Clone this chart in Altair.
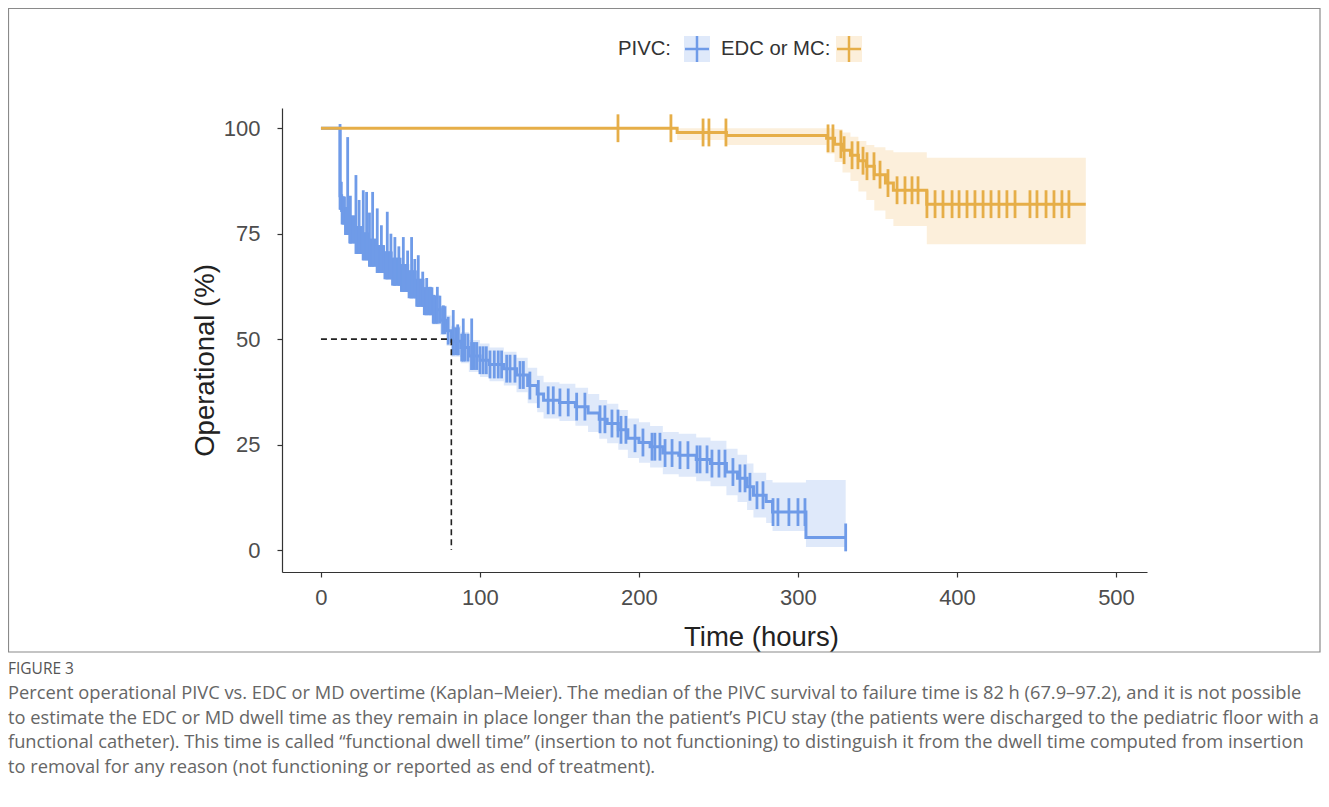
import altair as alt
import pandas as pd
import numpy as np

# ---------------- data ----------------
# PIVC Kaplan-Meier step curve (time in hours, survival %), with CI band
pivc_t = [0, 12, 13, 15, 18, 22, 26, 30, 35, 40, 45, 50, 55, 60, 65, 70, 75, 79, 82, 88,
          93, 100, 106, 115, 123, 130, 136, 140, 150, 160, 168, 175, 180, 187, 193, 200,
          207, 215, 225, 236, 245, 255, 262, 268, 272, 280, 284, 305, 330]
pivc_s = [100, 84, 80.5, 78, 76, 73.5, 72, 70.5, 69, 67.5, 66, 64.5, 63, 61, 59, 57, 54.5, 52, 49.5, 48,
          46, 45, 44, 43, 41.5, 39, 37, 35.5, 35, 34, 32.5, 31, 30, 28.5, 26.5, 25.5,
          24.5, 23, 22.5, 21.5, 20.5, 18.5, 17, 15, 13, 11.5, 9, 3, 3]
pivc_lo = [100, 81, 77.5, 75, 73, 70.5, 69, 67.5, 66, 64.4, 62.9, 61.3, 59.7, 57.7, 55.6, 53.5, 51, 48.4, 45.8, 44.3,
           42.2, 41, 40, 39, 37.4, 34.8, 32.7, 31.2, 30.6, 29.5, 28, 26.4, 25.3, 23.8, 21.8, 20.7,
           19.6, 18, 17.4, 16.3, 15.1, 13, 11.4, 9.5, 7.7, 6.4, 4.5, 0.7, 0.7]
pivc_hi = [100, 87, 83.5, 81, 79, 76.5, 75, 73.5, 72, 70.6, 69.1, 67.7, 66.3, 64.3, 62.4, 60.5, 58, 55.6, 53.2, 51.7,
           49.8, 49, 48, 47, 45.6, 43.2, 41.3, 39.8, 39.4, 38.5, 37, 35.6, 34.7, 33.2, 31.2, 30.3,
           29.4, 28, 27.6, 26.7, 25.9, 24, 22.6, 20.5, 18.3, 16.6, 16, 16.6, 16.6]
# PIVC censoring times
pivc_censor = [12.3, 12.8, 13.3, 13.8, 14.3, 14.8, 15.4, 16, 16.7, 17.4, 18.1, 18.8, 19.5, 20.2,
               21, 21.8, 22.6, 23.4, 24.2, 25, 25.8, 26.6, 27.4, 28.2, 29, 29.8, 30.6, 31.4,
               32.2, 33, 33.8, 34.6, 35.4, 36.2, 37, 37.8, 38.6, 39.4, 40.2, 41, 41.8, 42.6,
               43.4, 44.2, 45, 45.8, 46.6, 47.4, 48.2, 49, 49.8, 50.6, 51.4, 52.2, 53, 53.8,
               54.6, 55.4, 56.2, 57, 57.8, 58.6, 59.4, 60.2, 61, 61.8, 62.6, 63.4, 64.2, 65,
               65.8, 66.6, 67.4, 68.2, 69, 69.8, 70.6, 71.4, 72.2, 73,
               74.8, 76.5, 78, 80, 83.2, 84.8, 86.4, 88.5, 90.6, 92.5, 94.8, 96.5, 98, 100, 102,
               104, 106.3, 109, 111.5, 113.6, 116.8, 118.9, 122, 125.2, 127.3, 131.4, 136.7,
               142.9, 146.1, 150.3, 155.5, 160.8, 166, 175.5, 178.6, 183, 186.8, 188.7, 191.8,
               197.5, 202.5, 208.2, 210, 213.2, 216.4, 220.8, 225.8, 230.8, 236.5, 238.4,
               242.8, 245.9, 250.3, 254.1, 259.1, 263.5, 266.7, 269.8, 274.2, 278, 284.3,
               287.4, 294.3, 300, 304.4, 330]
# tall spikes rising above the early PIVC curve (time, top value)
spike_t = [12, 16.8, 18.5, 22, 24, 26.6, 28.7, 30.5, 32.5, 35.4, 38, 41.7, 44, 46.5, 49,
           51.8, 54.5, 57, 59, 61.2, 64, 66.5, 68.6, 71, 73.2, 77, 83.2, 86, 89.5, 94.8]
spike_top = [101, 97.9, 84, 88.9, 83, 85.3, 84.9, 80, 84.9, 81, 77, 80.2, 75, 74.2, 72,
             74.2, 71, 74.2, 69, 69.9, 66, 64.5, 62.4, 60.5, 62.4, 58, 56.9, 53.5, 54.9, 54.9]

# EDC or MC step curve with CI band
edc_t = [0, 224, 255, 318, 323, 328, 333, 338, 343, 348, 355, 360, 381, 481]
edc_s = [100, 99, 98.3, 97.6, 96.2, 94.8, 93.6, 92.3, 91, 89, 87, 85.3, 82, 82]
edc_lo = [100, 97.2, 96, 94, 92, 89.5, 87.5, 85, 83, 80.5, 78.5, 76.8, 72.5, 72.5]
edc_hi = [100, 100, 100, 100, 99.8, 99, 98, 97, 96, 95.5, 94.8, 94.3, 93, 93]
edc_censor = [186.8, 220.1, 240.3, 244, 254.7, 318.9, 322, 327, 329, 334, 337.7, 340.9, 343.4,
              347.8, 351.6, 356.6, 362.3, 367.3, 371.7, 375.5, 381.1, 386.2, 391.2, 396.9,
              401.3, 406.3, 411.3, 416.4, 421.4, 426.4, 431.4, 436.5, 445.9, 450.3, 456, 461,
              466, 470.4]

median_t = 82
median_s = 50

x_ticks = [0, 100, 200, 300, 400, 500]
y_ticks = [0, 25, 50, 75, 100]

caption_head = "FIGURE 3"
caption = ("Percent operational PIVC vs. EDC or MD overtime (Kaplan\u2013Meier). The median of the PIVC survival to failure time is 82 h (67.9\u201397.2), and it is not possible\n"
           "to estimate the EDC or MD dwell time as they remain in place longer than the patient\u2019s PICU stay (the patients were discharged to the pediatric floor with a\n"
           "functional catheter). This time is called \u201cfunctional dwell time\u201d (insertion to not functioning) to distinguish it from the dwell time computed from insertion\n"
           "to removal for any reason (not functioning or reported as end of treatment).")

# ---------------- styling ----------------
BLUE = "#6f9be8"
BLUE_BAND = "#dfe9fa"
ORANGE = "#e6ae48"
ORANGE_BAND = "#fcefdb"
TICK_HALF = 3.3  # survival units (~14 px)

W, H = 865, 464

def step_value(ts, ss, t):
    v = ss[0]
    for ti, si in zip(ts, ss):
        if ti <= t:
            v = si
    return v

pivc = pd.DataFrame({"t": pivc_t, "s": pivc_s, "lo": pivc_lo, "hi": pivc_hi})
edc = pd.DataFrame({"t": edc_t, "s": edc_s, "lo": edc_lo, "hi": edc_hi})

pc = pd.DataFrame({"t": pivc_censor})
pc["s"] = [step_value(pivc_t, pivc_s, t) for t in pivc_censor]
pc["y1"] = pc["s"] - TICK_HALF
pc["y2"] = pc["s"] + TICK_HALF

sp = pd.DataFrame({"t": spike_t, "top": spike_top})
sp["base"] = [step_value(pivc_t, pivc_s, t) - TICK_HALF for t in spike_t]

ec = pd.DataFrame({"t": edc_censor})
ec["s"] = [step_value(edc_t, edc_s, t) for t in edc_censor]
ec["y1"] = ec["s"] - TICK_HALF
ec["y2"] = ec["s"] + TICK_HALF

med = pd.DataFrame({"x": [0, median_t], "y": [median_s, median_s]})
medv = pd.DataFrame({"x": [median_t, median_t], "y": [median_s, 0]})

xs = alt.Scale(domain=[-24.5, 519.5], nice=False, zero=False)
ys = alt.Scale(domain=[-5.2, 104.8], nice=False, zero=False)

x_axis = alt.Axis(values=x_ticks, title="Time (hours)", grid=False, titleX=479, titleY=73,
                  titleBaseline="alphabetic", titleAnchor="start", titleAlign="center",
                  labelPadding=10)
y_axis = alt.Axis(values=y_ticks, title="Operational (%)", grid=False, titleX=-69, titleY=252,
                  titleBaseline="alphabetic", titleAlign="center", titleAnchor="start",
                  labelPadding=17)

X = lambda f: alt.X(f, type="quantitative", scale=xs, axis=x_axis)
Y = lambda f: alt.Y(f, type="quantitative", scale=ys, axis=y_axis)

pivc_band = alt.Chart(pivc).mark_area(interpolate="step-after", color=BLUE_BAND).encode(
    x=X("t"), y=Y("lo"), y2="hi")
edc_band = alt.Chart(edc).mark_area(interpolate="step-after", color=ORANGE_BAND).encode(
    x=X("t"), y=Y("lo"), y2="hi")

pivc_line = alt.Chart(pivc).mark_line(interpolate="step-after", color=BLUE, strokeWidth=3).encode(
    x=X("t"), y=Y("s"))
pivc_ticks = alt.Chart(pc).mark_rule(color=BLUE, strokeWidth=2.8).encode(
    x=X("t"), y=Y("y1"), y2="y2")
pivc_spikes = alt.Chart(sp).mark_rule(color=BLUE, strokeWidth=2.8).encode(
    x=X("t"), y=Y("base"), y2="top")

edc_line = alt.Chart(edc).mark_line(interpolate="step-after", color=ORANGE, strokeWidth=3).encode(
    x=X("t"), y=Y("s"))
edc_ticks = alt.Chart(ec).mark_rule(color=ORANGE, strokeWidth=2.8).encode(
    x=X("t"), y=Y("y1"), y2="y2")

med_h = alt.Chart(med).mark_line(color="#222", strokeDash=[6, 4], strokeWidth=1.6).encode(
    x=X("x"), y=Y("y"))
med_v = alt.Chart(medv).mark_line(color="#222", strokeDash=[6, 4], strokeWidth=1.6).encode(
    x=X("x"), y=Y("y"))

one = pd.DataFrame({"a": [0]})

frame = alt.Chart(one).mark_rect(fill=None, stroke="#8a8a8a", strokeWidth=1.2).encode(
    x=alt.value(-273.5), x2=alt.value(1038), y=alt.value(-99.5), y2=alt.value(544))

# manual legend
leg_font = dict(font="Liberation Sans", fontSize=20.3, color="#333", align="left", baseline="middle")
leg_t1 = alt.Chart(one).mark_text(**leg_font).encode(x=alt.value(336), y=alt.value(-59), text=alt.value("PIVC:"))
leg_t2 = alt.Chart(one).mark_text(**leg_font).encode(x=alt.value(439), y=alt.value(-59), text=alt.value("EDC or MC:"))
leg_b1 = alt.Chart(one).mark_rect(fill=BLUE_BAND).encode(
    x=alt.value(402), x2=alt.value(428), y=alt.value(-72), y2=alt.value(-46))
leg_b2 = alt.Chart(one).mark_rect(fill=ORANGE_BAND).encode(
    x=alt.value(554), x2=alt.value(580), y=alt.value(-72), y2=alt.value(-46))
leg_h1 = alt.Chart(one).mark_rule(color=BLUE, strokeWidth=2.5).encode(
    x=alt.value(403), x2=alt.value(427), y=alt.value(-59))
leg_v1 = alt.Chart(one).mark_rule(color=BLUE, strokeWidth=2.5).encode(
    x=alt.value(415), y=alt.value(-72), y2=alt.value(-46))
leg_h2 = alt.Chart(one).mark_rule(color=ORANGE, strokeWidth=2.5).encode(
    x=alt.value(555), x2=alt.value(579), y=alt.value(-59))
leg_v2 = alt.Chart(one).mark_rule(color=ORANGE, strokeWidth=2.5).encode(
    x=alt.value(567), y=alt.value(-72), y2=alt.value(-46))

cap_head = alt.Chart(one).mark_text(font="Open Sans", fontSize=15.5, color="#555", align="left",
                                    baseline="alphabetic").encode(
    x=alt.value(-274), y=alt.value(566), text=alt.value(caption_head))
cap_body = alt.Chart(one).mark_text(font="Open Sans", fontSize=18.3, color="#666", align="left",
                                    baseline="alphabetic", lineBreak="\n", lineHeight=24.6).encode(
    x=alt.value(-274), y=alt.value(591), text=alt.value(caption))

chart = alt.layer(
    frame, pivc_band, edc_band, pivc_line, pivc_ticks, pivc_spikes, edc_line, edc_ticks,
    med_h, med_v, leg_b1, leg_b2, leg_h1, leg_v1, leg_h2, leg_v2, leg_t1, leg_t2,
    cap_head, cap_body
).properties(
    width=W, height=H,
    autosize=alt.AutoSizeParams(type="none"),
    padding={"left": 274, "top": 100, "right": 174, "bottom": 227},
).configure_view(stroke=None).configure_axis(
    domainColor="#333", domainWidth=1.2, tickColor="#333", tickWidth=1.2, tickSize=5,
    labelColor="#4d4d4d", labelFont="Liberation Sans", labelFontSize=22,
    titleColor="#222", titleFont="Liberation Sans", titleFontSize=27.5, titleFontWeight="normal"
)

chart.save("out.html", embed_options={"renderer": "svg", "actions": False})
